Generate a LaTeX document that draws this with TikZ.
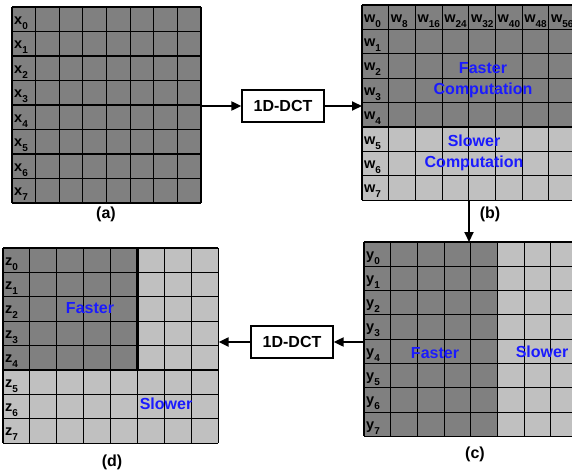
\documentclass[tikz,border=0pt]{standalone}
\usepackage{fontspec}
\setmainfont{Liberation Sans}
\usetikzlibrary{arrows.meta,positioning}

\definecolor{darkcell}{HTML}{808080}
\definecolor{lightcell}{HTML}{C0C0C0}
\definecolor{noteblue}{HTML}{1A1AFF}

% letter with a lowered index, as in the cell tags
\newcommand{\idx}[2]{#1\raisebox{-5pt}{\fontsize{10}{10}\selectfont #2}}

\begin{document}
\begin{tikzpicture}[x=1pt,y=-1pt]
\tikzstyle{block} = [rectangle, draw=black, line width=1.3pt, fill=white,
minimum width=82pt, minimum height=32pt, inner sep=0pt,
font=\fontsize{16}{16}\selectfont\bfseries]
\tikzstyle{frame} = [rectangle, draw=none, inner sep=0pt, anchor=north west]
\tikzstyle{line} = [draw, line width=2pt, -{Triangle[length=10pt,width=9pt]}]
\tikzstyle{caption} = [font=\fontsize{16}{16}\selectfont\bfseries]
\tikzstyle{note} = [text=noteblue, align=center, inner sep=0pt,
font=\fontsize{16}{21}\selectfont\bfseries]
\tikzstyle{tag} = [anchor=base west, inner sep=0pt,
font=\fontsize{14.5}{14.5}\selectfont\bfseries]
\tikzstyle{grid} = [draw=black, line width=1.1pt]
\tikzstyle{split} = [draw=black, line width=2.6pt]

\useasboundingbox (0,0) rectangle (572,474);

% (a) input block
\node[frame, minimum width=189pt, minimum height=196pt] (gridA) at (12,7) {};
\fill[darkcell] (12,7) rectangle (201,203);
\foreach \i in {0,...,8}
  \draw[grid] (12+\i*23.625,7) -- (12+\i*23.625,203);
\foreach \j in {0,...,8}
  \draw[grid] (12,7+\j*24.5) -- (201,7+\j*24.5);
\foreach \r in {0,...,7}
  \node[tag] (xtag\r) at (14,7+\r*24.5+17) {\idx{x}{\r}};
\node[caption] (capA) at (106,214) {(a)};

% (b) after row transform
\node[frame, minimum width=213.6pt, minimum height=195.2pt] (gridB) at (362,5) {};
\fill[darkcell] (362,5) rectangle (575.6,127);
\fill[lightcell] (362,127) rectangle (575.6,200.2);
\foreach \i in {0,...,8}
  \draw[grid] (362+\i*26.7,5) -- (362+\i*26.7,200.2);
\foreach \j in {0,...,8}
  \draw[grid] (362,5+\j*24.4) -- (575.6,5+\j*24.4);
\draw[split] (362,127) -- (575.6,127);
\foreach \r in {0,...,7}
  \node[tag] (wtag\r) at (364,5+\r*24.4+17) {\idx{w}{\r}};
\foreach \c [evaluate=\c as \k using int(8*\c)] in {1,...,7}
  \node[tag] (whead\c) at (364+\c*26.7,5+17) {\idx{w}{\k}};
\node[note] (fastB) at (483,80) {Faster\\Computation};
\node[note] (slowB) at (474,153) {Slower\\Computation};
\node[caption] (capB) at (490,214) {(b)};

% (c) after column transform
\node[frame, minimum width=213.6pt, minimum height=194.4pt] (gridC) at (364,242) {};
\fill[darkcell] (364,242) rectangle (497.5,436.4);
\fill[lightcell] (497.5,242) rectangle (577.6,436.4);
\foreach \i in {0,...,8}
  \draw[grid] (364+\i*26.7,242) -- (364+\i*26.7,436.4);
\foreach \j in {0,...,8}
  \draw[grid] (364,242+\j*24.3) -- (577.6,242+\j*24.3);
\foreach \r in {0,...,7}
  \node[tag] (ytag\r) at (366,242+\r*24.3+17) {\idx{y}{\r}};
\node[note] (fastC) at (435,353) {Faster};
\node[note] (slowC) at (542,352) {Slower};
\node[caption] (capC) at (475,454) {(c)};

% (d) output block
\node[frame, minimum width=215.2pt, minimum height=195.2pt] (gridD) at (3,248) {};
\fill[lightcell] (3,248) rectangle (218.2,443.2);
\fill[darkcell] (3,248) rectangle (137.5,370);
\foreach \i in {0,...,8}
  \draw[grid] (3+\i*26.9,248) -- (3+\i*26.9,443.2);
\foreach \j in {0,...,8}
  \draw[grid] (3,248+\j*24.4) -- (218.2,248+\j*24.4);
\draw[split] (137.5,370) -- (137.5,248) -- (218.2,248);
\draw[split] (3,370) -- (3,443.2);
\foreach \r in {0,...,7}
  \node[tag] (ztag\r) at (5,248+\r*24.4+17) {\idx{z}{\r}};
\node[note] (fastD) at (90,308) {Faster};
\node[note] (slowD) at (166,404) {Slower};
\node[caption] (capD) at (112,462) {(d)};

% transforms
\node[block] (dct1) at (283,106) {1D-DCT};
\node[block] (dct2) at (292,342) {1D-DCT};

\path[line] (dct1.west -| gridA.east) -- (dct1.west);
\path[line] (dct1.east) -- (dct1.east -| gridB.west);
\path[line] (gridB.south) -- (gridB.south |- gridC.north);
\path[line] (dct2.east -| gridC.west) -- (dct2.east);
\path[line] (dct2.west) -- (dct2.west -| gridD.east);
\end{tikzpicture}
\end{document}
